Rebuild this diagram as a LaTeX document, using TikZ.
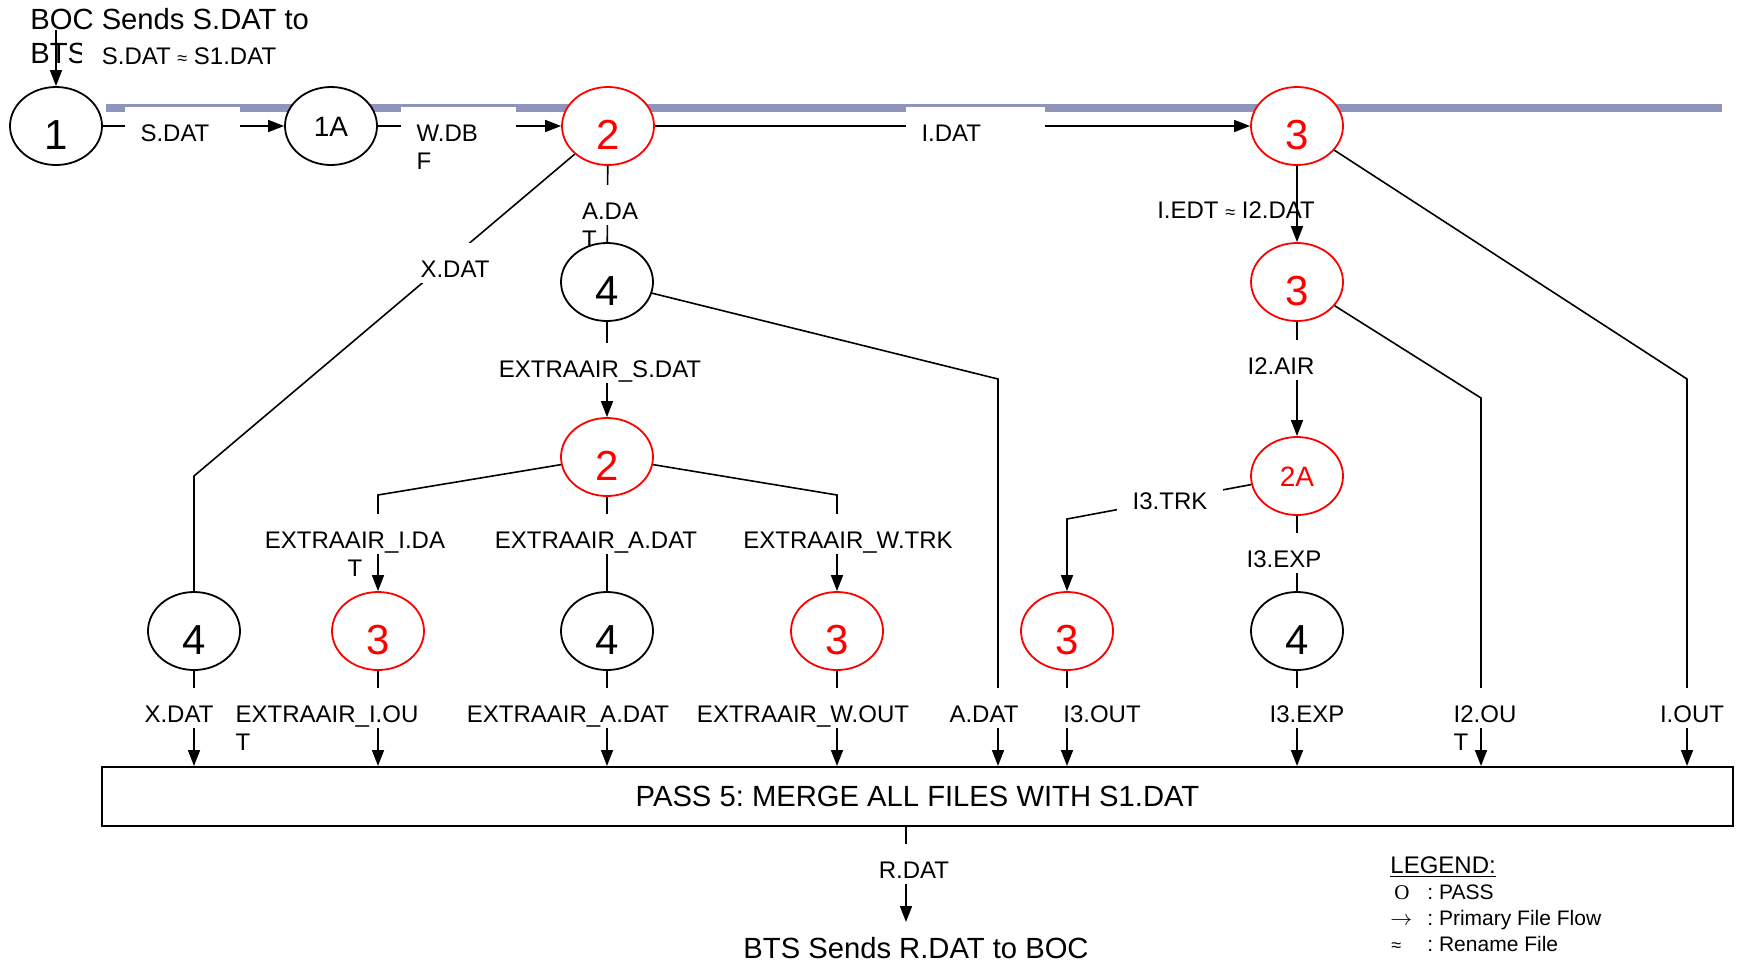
\documentclass[tikz,border=0pt]{standalone}
\usepackage{fontspec}
\setmainfont{Liberation Sans}
\newfontfamily\legendsym{Liberation Serif}
\usetikzlibrary{arrows.meta, shapes.geometric}
\frenchspacing

\definecolor{bandblue}{RGB}{143,149,186}
\newsavebox\firstline
% a wrapped label: the second line hangs below and takes no room
\newcommand\wrapl[2]{\rlap{\raisebox{-1.2em}[0pt][0pt]{#2}}#1}
\newcommand\wrapc[2]{\sbox\firstline{#1}%
  \rlap{\raisebox{-1.2em}[0pt][0pt]{\makebox[\wd\firstline]{#2}}}\usebox\firstline}
\newcommand\ren{{\fontsize{9}{9}\selectfont≈}}

\begin{document}
\begin{tikzpicture}[
  x=0.5pt, y=-0.5pt,
  pass/.style={ellipse, draw, fill=white, line width=0.9pt, minimum width=46pt,
    minimum height=39pt, inner sep=0pt, text height=23pt, text depth=0pt,
    font=\fontsize{21}{21}\selectfont},
  redpass/.style={pass, draw=red, text=red},
  subpass/.style={font=\fontsize{14}{14}\selectfont, text height=10pt},
  flow/.style={line width=0.8pt, -{Triangle[length=8pt, width=6pt]}},
  link/.style={line width=0.8pt},
  lbl/.style={fill=white, inner xsep=8pt, inner ysep=0pt, minimum height=20pt,
    text height=14pt, text depth=0pt, font=\fontsize{12}{14}\selectfont},
  toplbl/.style={lbl, align=left},
  txt/.style={inner sep=0pt, font=\fontsize{12}{14}\selectfont},
  big/.style={inner sep=0pt, font=\fontsize{14.6}{17}\selectfont},
]
  \useasboundingbox (0,0) rectangle (1744,964);

  % band behind the first row
  \draw[line width=4pt, bandblue] (106,108) -- (1722,108);

  % passes
  \node[pass] (p1) at (56,126) {1};
  \node[pass, subpass] (p1a) at (331,126) {1A};
  \node[redpass] (p2) at (608,126) {2};
  \node[redpass] (p3) at (1297,126) {3};
  \node[pass] (p4) at (607,282) {4};
  \node[redpass] (p3b) at (1297,282) {3};
  \node[redpass] (p2b) at (607,457) {2};
  \node[redpass, subpass] (p2a) at (1297,476) {2A};

  \node[pass] (q4x) at (194,631) {4};
  \node[redpass] (q3i) at (378,631) {3};
  \node[pass] (q4a) at (607,631) {4};
  \node[redpass] (q3w) at (837,631) {3};
  \node[redpass] (q3t) at (1067,631) {3};
  \node[pass] (q4e) at (1297,631) {4};

  \node[draw, line width=1pt, minimum width=815.5pt, minimum height=29.5pt, big]
    (pass5) at (917.5,796.5) {PASS 5: MERGE ALL FILES WITH S1.DAT};

  \node[big, align=left, anchor=west] (boc) at (30,36) {BOC Sends S.DAT to\\BTS};
  \node[big] (bts) at (916,948) {BTS Sends R.DAT to BOC};

  % bends
  \coordinate (kboc) at (56,30);
  \coordinate (kx) at (194,476);
  \coordinate (kil) at (378,495);
  \coordinate (kwr) at (837,495);
  \coordinate (kadat) at (998,379);
  \coordinate (ktrk) at (1067,519);
  \coordinate (ki2out) at (1481,398);
  \coordinate (kiout) at (1687,379);
  \coordinate (krdat) at (906,922);

  % file flows
  \draw[flow] (kboc) -- (p1);
  \draw[flow] (p1) -- (p1a);
  \draw[flow] (p1a) -- (p2);
  \draw[flow] (p2) -- (p3);
  \draw[link] (p2) -- (p4);
  \draw[link] (p2) -- (kx) -- (q4x);
  \draw[flow] (p4) -- (p2b);
  \draw[flow] (p4) -- (kadat) -- (kadat |- pass5.north);
  \draw[flow] (p2b) -- (kil) -- (q3i);
  \draw[link] (p2b) -- (q4a);
  \draw[flow] (p2b) -- (kwr) -- (q3w);
  \draw[flow] (p3) -- (p3b);
  \draw[flow] (p3) -- (kiout) -- (kiout |- pass5.north);
  \draw[flow] (p3b) -- (p2a);
  \draw[flow] (p3b) -- (ki2out) -- (ki2out |- pass5.north);
  \draw[flow] (p2a) -- (ktrk) -- (q3t);
  \draw[link] (p2a) -- (q4e);
  \foreach \n in {q4x, q3i, q4a, q3w, q3t, q4e}
    \draw[flow] (\n) -- (\n |- pass5.north);
  \draw[flow] (pass5.south -| krdat) -- (krdat);

  % file names
  \node[lbl, minimum height=18pt, inner xsep=10pt] (lsren) at (189,50) {S.DAT \ren{} S1.DAT};
  \node[toplbl, text width=41.5pt] (lsdat) at (182,127) {S.DAT};
  \node[toplbl, text width=41.5pt] (lwdbf) at (458,127) {\wrapl{W.DB}{F}};
  \node[toplbl, text width=53.5pt] (lidat) at (975,127) {I.DAT};
  \node[lbl] (ladat) at (610,205) {\wrapl{A.DA}{T}};
  \node[lbl] (lxdat) at (455,263) {X.DAT};
  \node[lbl] (lexs) at (600,363) {EXTRAAIR\_S.DAT};
  \node[lbl] (lexi) at (355,534) {\wrapc{EXTRAAIR\_I.DA}{T}};
  \node[lbl] (lexa) at (596,534) {EXTRAAIR\_A.DAT};
  \node[lbl] (lexw) at (848,534) {EXTRAAIR\_W.TRK};
  \node[txt] (liedt) at (1236,210) {I.EDT \ren{} I2.DAT};
  \node[lbl] (li2air) at (1281,360) {I2.AIR};
  \node[lbl] (li3trk) at (1170,495) {I3.TRK};
  \node[lbl] (li3exp) at (1284,553) {I3.EXP};

  \node[lbl] (lxout) at (179,708) {X.DAT};
  \node[lbl] (lexio) at (327,708) {\wrapl{EXTRAAIR\_I.OU}{T}};
  \node[lbl] (lexao) at (568,708) {EXTRAAIR\_A.DAT};
  \node[lbl] (lexwo) at (803,708) {EXTRAAIR\_W.OUT};
  \node[lbl] (ladato) at (984,708) {A.DAT};
  \node[lbl] (li3out) at (1102,708) {I3.OUT};
  \node[lbl] (li3expo) at (1307,708) {I3.EXP};
  \node[lbl] (li2out) at (1485,708) {\wrapl{I2.OU}{T}};
  \node[lbl] (liout) at (1692,708) {I.OUT};
  \node[lbl] (lrdat) at (914,864) {R.DAT};

  % legend
  \node[inner sep=0pt, anchor=north west, align=left,
    font=\fontsize{10.5}{13}\selectfont] (legend) at (1390,856)
    {{\fontsize{12}{13}\selectfont\underline{LEGEND:}}\\
     \makebox[18.5pt][l]{\hspace{2pt}{\legendsym O}}: PASS\\
     \makebox[18.5pt][l]{$\rightarrow$}: Primary File Flow\\
     \makebox[18.5pt][l]{\hspace{0.5pt}{\fontsize{9}{9}\selectfont≈}}: Rename File};
\end{tikzpicture}
\end{document}
